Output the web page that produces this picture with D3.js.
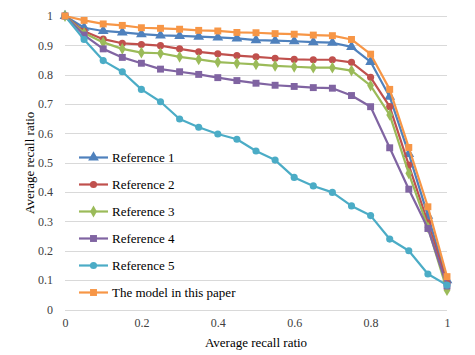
<!DOCTYPE html>
<html>
<head>
<meta charset="utf-8">
<script src="https://cdn.jsdelivr.net/npm/d3@7"></script>
<style>
  body { margin: 0; background: #fff; }
  svg { display: block; font-family: "Liberation Serif", "Times New Roman", serif; }
</style>
</head>
<body>
<div id="container"></div>
<script>
const width = 475;
const height = 355;

const recall = d3.range(21).map(i => i / 20);

const reference1 = [1, 0.96, 0.949, 0.944, 0.938, 0.934, 0.932, 0.93, 0.927, 0.924, 0.918,
  0.916, 0.914, 0.911, 0.909, 0.895, 0.844, 0.725, 0.53, 0.32, 0.1];
const reference2 = [1, 0.948, 0.921, 0.907, 0.903, 0.899, 0.888, 0.878, 0.871, 0.865, 0.861,
  0.856, 0.852, 0.851, 0.851, 0.842, 0.791, 0.691, 0.492, 0.295, 0.09];
const reference3 = [1, 0.942, 0.91, 0.888, 0.875, 0.873, 0.861, 0.852, 0.843, 0.839, 0.835,
  0.83, 0.827, 0.824, 0.824, 0.814, 0.763, 0.663, 0.464, 0.28, 0.066];
const reference4 = [1, 0.935, 0.888, 0.859, 0.839, 0.819, 0.81, 0.801, 0.79, 0.78, 0.771,
  0.764, 0.76, 0.756, 0.754, 0.729, 0.691, 0.551, 0.41, 0.276, 0.08];
const reference5 = [1, 0.92, 0.848, 0.81, 0.75, 0.708, 0.649, 0.621, 0.598, 0.58, 0.54,
  0.509, 0.45, 0.421, 0.399, 0.353, 0.32, 0.24, 0.2, 0.121, 0.083];
const thisModel = [1, 0.985, 0.973, 0.968, 0.96, 0.958, 0.955, 0.951, 0.949, 0.944, 0.943,
  0.94, 0.938, 0.935, 0.933, 0.92, 0.87, 0.75, 0.552, 0.35, 0.112];

const seriesNames = ['Reference 1', 'Reference 2', 'Reference 3', 'Reference 4', 'Reference 5', 'The model in this paper'];
const xTicks = [0, 0.2, 0.4, 0.6, 0.8, 1];
const yTicks = [0, 0.1, 0.2, 0.3, 0.4, 0.5, 0.6, 0.7, 0.8, 0.9, 1];

const series = [
  {name: seriesNames[0], values: reference1, color: '#4F81BD', symbol: d3.symbolTriangle, size: 50},
  {name: seriesNames[1], values: reference2, color: '#C0504D', symbol: d3.symbolCircle, size: 40},
  {name: seriesNames[2], values: reference3, color: '#9BBB59', symbol: d3.symbolDiamond, size: 40},
  {name: seriesNames[3], values: reference4, color: '#8064A2', symbol: d3.symbolSquare, size: 48},
  {name: seriesNames[4], values: reference5, color: '#4BACC6', symbol: d3.symbolCircle, size: 40},
  {name: seriesNames[5], values: thisModel, color: '#F79646', symbol: d3.symbolSquare, size: 48}
];

const x = d3.scaleLinear().domain([0, 1]).range([65, 447]);
const y = d3.scaleLinear().domain([0, 1]).range([309.5, 16]);

const svg = d3.select('#container').append('svg')
  .attr('width', width)
  .attr('height', height);

// gridlines
svg.append('g')
  .selectAll('line')
  .data(yTicks)
  .join('line')
  .attr('x1', x(0))
  .attr('x2', x(1))
  .attr('y1', d => Math.round(y(d)) + 0.5)
  .attr('y2', d => Math.round(y(d)) + 0.5)
  .attr('stroke', '#D9D9D9')
  .attr('stroke-width', 1);

// y axis labels
const yAxis = svg.append('g')
  .attr('transform', `translate(${x(0) - 12},0)`)
  .call(d3.axisLeft(y).tickValues(yTicks).tickSize(0).tickPadding(0).tickFormat(d3.format('~g')));
yAxis.select('.domain').remove();
yAxis.selectAll('text')
  .attr('font-family', '"Liberation Serif", serif')
  .attr('font-size', 12)
  .attr('fill', '#404040');

// x axis labels
const xAxis = svg.append('g')
  .attr('transform', `translate(0,${y(0) + 9})`)
  .call(d3.axisBottom(x).tickValues(xTicks).tickSize(0).tickPadding(0).tickFormat(d3.format('~g')));
xAxis.select('.domain').remove();
xAxis.selectAll('text')
  .attr('font-family', '"Liberation Serif", serif')
  .attr('font-size', 12)
  .attr('fill', '#404040');

// axis titles
svg.append('text')
  .attr('x', (x(0) + x(1)) / 2)
  .attr('y', 347)
  .attr('text-anchor', 'middle')
  .attr('font-size', 13)
  .attr('fill', '#000')
  .text('Average recall ratio');

svg.append('text')
  .attr('transform', `translate(34,${(y(0) + y(1)) / 2}) rotate(-90)`)
  .attr('text-anchor', 'middle')
  .attr('font-size', 13)
  .attr('fill', '#000')
  .text('Average recall ratio');

// lines and markers
const line = d3.line()
  .x((d, i) => x(recall[i]))
  .y(d => y(d));

const groups = svg.append('g')
  .selectAll('g')
  .data(series)
  .join('g');

groups.append('path')
  .attr('d', d => line(d.values))
  .attr('fill', 'none')
  .attr('stroke', d => d.color)
  .attr('stroke-width', 2.2)
  .attr('stroke-linejoin', 'round');

groups.each(function(s) {
  d3.select(this).selectAll('path.marker')
    .data(s.values)
    .join('path')
    .attr('class', 'marker')
    .attr('d', d3.symbol().type(s.symbol).size(s.size))
    .attr('transform', (d, i) => `translate(${x(recall[i])},${y(d)})`)
    .attr('fill', s.color);
});

// legend
const legend = svg.append('g')
  .selectAll('g')
  .data(series)
  .join('g')
  .attr('transform', (d, i) => `translate(79,${157.5 + i * 27})`);

legend.append('line')
  .attr('x1', 0)
  .attr('x2', 29)
  .attr('stroke', d => d.color)
  .attr('stroke-width', 2.2);

legend.append('path')
  .attr('d', d => d3.symbol().type(d.symbol).size(d.size)())
  .attr('transform', 'translate(14.5,0)')
  .attr('fill', d => d.color);

legend.append('text')
  .attr('x', 33)
  .attr('y', 0)
  .attr('dy', '0.35em')
  .attr('font-size', 13)
  .attr('fill', '#000')
  .text(d => d.name);
</script>
</body>
</html>
